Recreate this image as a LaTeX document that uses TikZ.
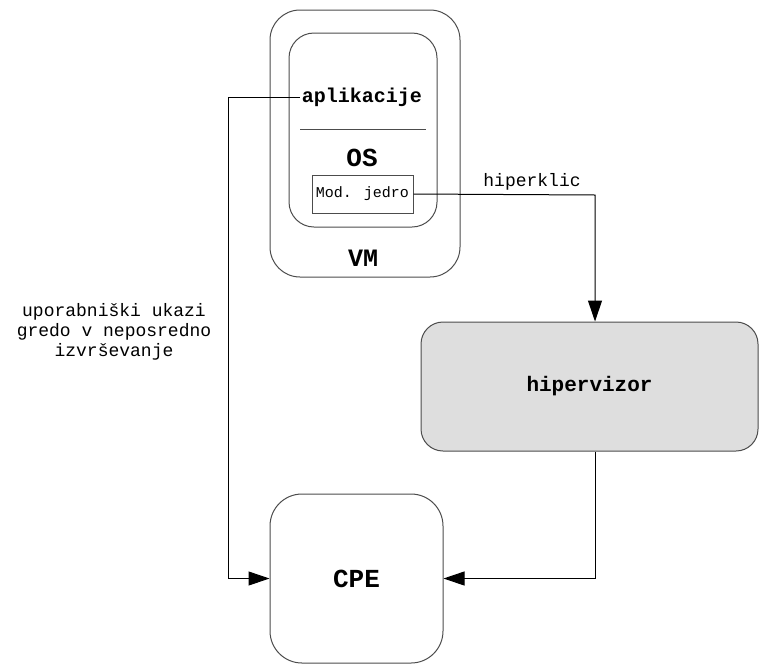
\documentclass[tikz,border=0pt]{standalone}
\usepackage{fontspec}
\setmainfont{Liberation Mono}
\usetikzlibrary{arrows.meta}
\begin{document}
\begin{tikzpicture}[x=1pt,y=-1pt,
  box/.style={draw=black!70, line width=1pt, rounded corners=#1, inner sep=0pt},
  box/.default=30pt,
  conn/.style={draw=black, line width=1pt},
  arr/.style={conn, -{Triangle[length=21pt,width=14pt]}},
  lbl/.style={font=\fontsize{18}{20}\selectfont, inner sep=2pt},
]
\useasboundingbox (0,0) rectangle (759,664);

% virtual machine with its guest OS
\node[box=30pt, minimum width=190pt, minimum height=267pt] (vm) at (365,143.5) {};
\node[box=25pt, minimum width=148pt, minimum height=194pt] (os) at (363,130) {};
\node[font=\fontsize{20}{22}\selectfont\bfseries, inner sep=2pt] (aplik) at (362,97) {aplikacije};
\draw[line width=1pt, black!70] (300,129) -- (426,129);
\node[font=\fontsize{26}{28}\selectfont\bfseries] (oslbl) at (362,158) {OS};
\node[draw=black!70, line width=1pt, minimum width=101pt, minimum height=38pt, inner sep=0pt,
      font=\fontsize{15}{17}\selectfont] (mod) at (362.5,194) {Mod. jedro};
\node[font=\fontsize{25}{27}\selectfont\bfseries] (vmlbl) at (363,258) {VM};

% hypervisor and processor
\node[box=22pt, fill=black!13, minimum width=337pt, minimum height=129pt,
      font=\fontsize{21}{23}\selectfont\bfseries] (hiper) at (589.5,386.5) {hipervizor};
\node[box=32pt, minimum width=173pt, minimum height=169pt,
      font=\fontsize{26}{28}\selectfont\bfseries] (cpe) at (356.5,578.5) {CPE};

% connectors
\coordinate (lc) at (228,97);
\coordinate (rc) at (595,195);
\draw[arr] (aplik.west) -- (lc) |- (cpe.west);
\draw[arr] (mod.east) -- (rc) -- (rc |- hiper.north);
\draw[arr] (hiper.south -| rc) |- (cpe.east);

% labels
\node[lbl] (hk) at (532,182) {hiperklic};
\node[lbl, align=center] (ukazi) at (114,332) {uporabniški ukazi\\gredo v neposredno\\izvrševanje};
\end{tikzpicture}
\end{document}
